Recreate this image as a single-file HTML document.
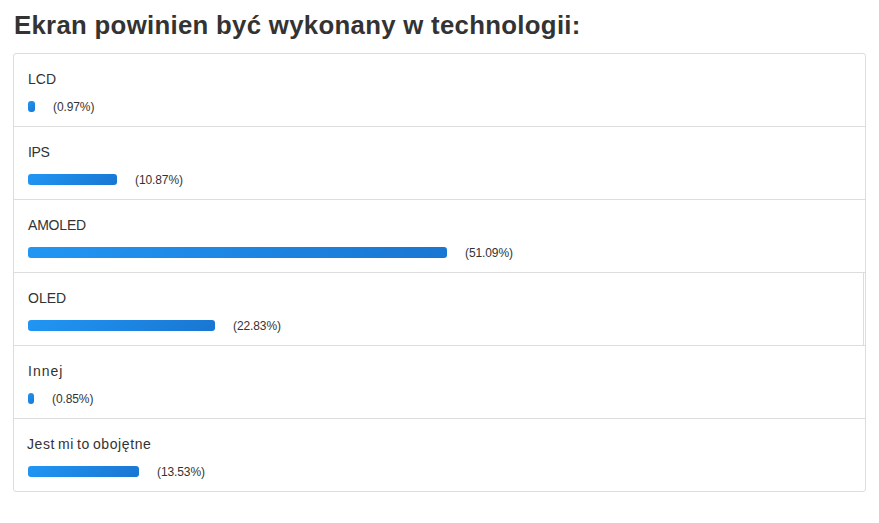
<!DOCTYPE html>
<html lang="pl">
<head>
<meta charset="utf-8">
<title>Ankieta</title>
<style>
*{box-sizing:border-box;margin:0;padding:0}
html,body{width:879px;height:523px;background:#fff;overflow:hidden}
body{font-family:"Liberation Sans",sans-serif;color:#333;position:relative}
h2{position:absolute;left:14px;top:9px;font-size:25px;line-height:32px;letter-spacing:.3px;font-weight:bold;color:#333;white-space:nowrap;transform-origin:0 0;transform:scaleX(1.03)}
.poll{position:absolute;left:13px;top:53px;width:853px;height:439px;border:1px solid #ddd;border-radius:3px;background:#fff}
.row{position:absolute;left:0;width:851px;height:73px;border-top:1px solid #ddd}
.row:first-child{border-top:none}
.lbl{position:absolute;left:14px;top:15px;font-size:14px;line-height:20px;color:#333;white-space:nowrap}
.bar{position:absolute;left:14px;top:47px;height:11px;border-radius:3px;background:linear-gradient(135deg,#2196f3,#1976d2)}
.pct{position:absolute;top:45px;font-size:12px;line-height:16px;letter-spacing:-.1px;color:#333;white-space:nowrap}
.vline{position:absolute;left:849px;top:0;width:1px;height:72px;background:#ddd}
</style>
</head>
<body>
<h2>Ekran powinien być wykonany w technologii:</h2>
<div class="poll">
  <div class="row" style="top:0"><div class="lbl">LCD</div><div class="bar" style="width:7px"></div><div class="pct" style="left:39px">(0.97%)</div></div>
  <div class="row" style="top:72px"><div class="lbl" style="letter-spacing:-.4px">IPS</div><div class="bar" style="width:89px"></div><div class="pct" style="left:121px">(10.87%)</div></div>
  <div class="row" style="top:145px"><div class="lbl" style="letter-spacing:-.2px">AMOLED</div><div class="bar" style="width:419px"></div><div class="pct" style="left:451px">(51.09%)</div></div>
  <div class="row" style="top:218px"><div class="lbl">OLED</div><div class="bar" style="width:187px"></div><div class="pct" style="left:219px">(22.83%)</div><div class="vline"></div></div>
  <div class="row" style="top:291px"><div class="lbl" style="letter-spacing:1px">Innej</div><div class="bar" style="width:6px"></div><div class="pct" style="left:38px">(0.85%)</div></div>
  <div class="row" style="top:364px"><div class="lbl" style="left:13px;letter-spacing:.6px;word-spacing:-1.5px">Jest mi to obojętne</div><div class="bar" style="width:111px"></div><div class="pct" style="left:143px">(13.53%)</div></div>
</div>
</body>
</html>
